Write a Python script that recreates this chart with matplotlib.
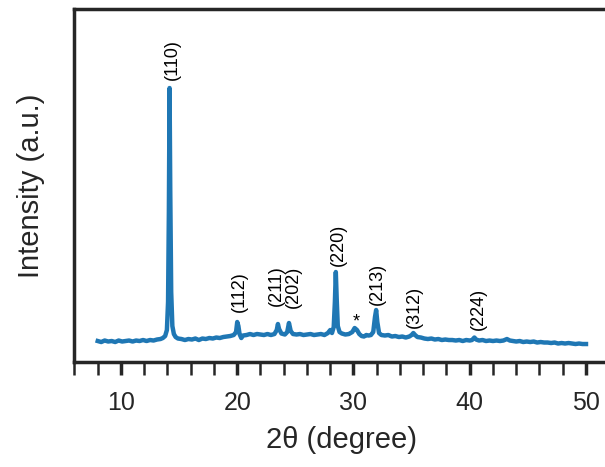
import matplotlib.pyplot as plt
from matplotlib.ticker import MultipleLocator

plt.rcParams['font.family'] = ['Liberation Sans', 'DejaVu Sans']

# 2theta (degree) and intensity (a.u.)
two_theta = [8.0, 8.3, 8.6, 8.9, 9.2, 9.5, 9.8, 10.1, 10.4, 10.7, 11.0, 11.3, 11.6, 11.9, 12.2, 12.5,
             12.8, 13.1, 13.4, 13.6, 13.8, 13.95, 14.05, 14.12, 14.18, 14.24, 14.32, 14.42, 14.55,
             14.7, 14.9, 15.2, 15.5, 15.8, 16.1, 16.4, 16.7, 17.0, 17.3, 17.6, 17.9, 18.2, 18.5,
             18.8, 19.1, 19.4, 19.7, 19.9, 20.0, 20.1, 20.2, 20.35, 20.5, 20.8, 21.1, 21.4, 21.7,
             22.0, 22.3, 22.6, 22.9, 23.2, 23.4, 23.5, 23.6, 23.8, 24.1, 24.3, 24.45, 24.6, 24.8,
             25.1, 25.4, 25.7, 26.0, 26.3, 26.6, 26.9, 27.2, 27.5, 27.8, 28.0, 28.15, 28.3, 28.4,
             28.48, 28.56, 28.65, 28.8, 29.0, 29.3, 29.6, 29.9, 30.1, 30.3, 30.5, 30.7, 30.9, 31.1,
             31.3, 31.5, 31.7, 31.85, 31.95, 32.05, 32.2, 32.4, 32.7, 33.0, 33.3, 33.6, 33.9, 34.2,
             34.5, 34.8, 35.0, 35.15, 35.3, 35.5, 35.8, 36.1, 36.4, 36.7, 37.0, 37.3, 37.6, 37.9,
             38.2, 38.5, 38.8, 39.1, 39.4, 39.7, 40.0, 40.2, 40.4, 40.55, 40.8, 41.1, 41.4, 41.7,
             42.0, 42.3, 42.6, 42.9, 43.2, 43.45, 43.7, 44.0, 44.3, 44.6, 44.9, 45.2, 45.5, 45.8,
             46.1, 46.4, 46.7, 47.0, 47.3, 47.6, 47.9, 48.2, 48.5, 48.8, 49.1, 49.4, 49.7, 50.0]
intensity = [21, 20, 21.5, 20.5, 21, 20, 21.5, 20.5, 21, 21.5, 20.5, 21.5, 21, 22, 21, 22,
             21.5, 22.5, 23, 24, 26, 32, 60, 150, 274, 170, 70, 36, 28,
             25, 23.5, 23, 22, 23, 22.5, 23.5, 22, 23.5, 23, 24, 23.5, 24.5, 24,
             25, 25.5, 26, 27, 30, 40, 36, 28, 24, 26.5, 27, 28, 27, 28,
             27.5, 27, 28, 27, 28, 32, 38, 33, 28.5, 27.5, 30, 39, 31, 28,
             27.5, 28, 27, 27.5, 28, 27, 27.5, 28, 27, 29, 32, 29, 35, 60,
             90, 62, 36, 30, 28.5, 27.5, 28, 30, 34, 32, 28, 26, 25.5, 27,
             26.5, 27, 30, 45, 52, 40, 29, 27, 26.5, 27, 25.5, 26, 25, 25.5,
             24.5, 25.5, 27, 29, 27, 25, 24.5, 23.5, 23, 23.5, 22.5, 23, 22, 22.5,
             22, 22, 21.5, 22, 21, 22, 21.5, 22, 24.5, 22.5, 21.5, 22, 21, 21.5,
             21, 21.5, 21, 21.5, 23, 21.5, 21, 20.5, 21, 20, 20.5, 20, 20.5, 19.5,
             20, 19.5, 19.5, 19, 19.5, 18.5, 19, 18.5, 19, 18.5, 18, 18.5, 18, 18]

# peak labels
peak_labels = ['(110)', '(112)', '(211)', '(202)', '(220)', '(213)', '(312)', '(224)']
label_x = [14.39, 20.15, 23.35, 24.8, 28.67, 32.04, 35.22, 40.73]
label_y = [282, 50, 56, 54, 96, 57, 34, 32]
star_x = 30.22
star_y = 40

fig = plt.figure(figsize=(6.05, 4.67), dpi=100)
ax = fig.add_axes([0.1231, 0.2248, 0.8839, 0.7559])

ax.plot(two_theta, intensity, color='#1f77b4', linewidth=3.2)

for lab, x, y in zip(peak_labels, label_x, label_y):
	ax.text(x, y, lab, rotation=90, ha='center', va='bottom', fontsize=13)
ax.text(star_x, star_y, '*', ha='center', va='center', fontsize=13)

ax.set_xlim(6, 52)
ax.set_ylim(0, 353)
ax.xaxis.set_major_locator(MultipleLocator(10))
ax.xaxis.set_minor_locator(MultipleLocator(2))
ax.set_yticks([])

for side in ['left', 'bottom', 'top']:
	ax.spines[side].set_linewidth(2.5)
	ax.spines[side].set_color('#262626')
ax.spines['right'].set_visible(False)

ax.tick_params(axis='x', which='major', length=9, width=2.5, color='#262626', labelsize=18, pad=12, labelcolor='#262626')
ax.tick_params(axis='x', which='minor', length=9, width=1.8, color='#262626')

ax.set_xlabel('2θ (degree)', fontsize=21, color='#262626', labelpad=8)
ax.set_ylabel('Intensity (a.u.)', fontsize=21, color='#262626', labelpad=21)

fig.savefig('out.png', dpi=100)
